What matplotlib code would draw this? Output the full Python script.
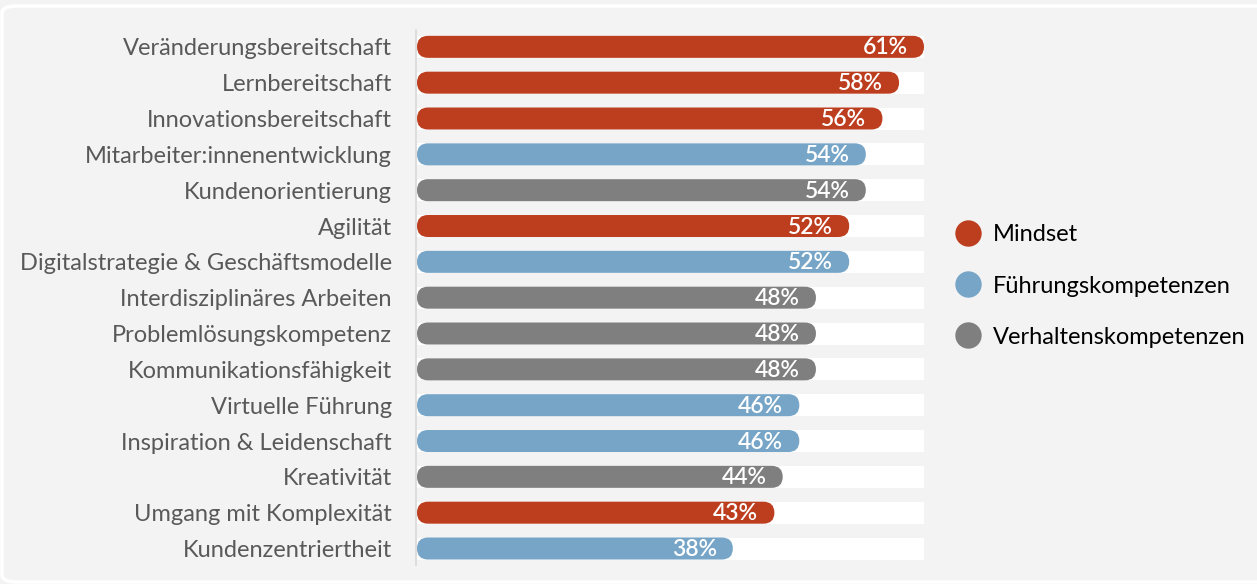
import matplotlib.pyplot as plt
from matplotlib.patches import FancyBboxPatch, Rectangle
from matplotlib.lines import Line2D

# data
labels = ["Veränderungsbereitschaft", "Lernbereitschaft", "Innovationsbereitschaft",
          "Mitarbeiter:innenentwicklung", "Kundenorientierung", "Agilität",
          "Digitalstrategie & Geschäftsmodelle", "Interdisziplinäres Arbeiten",
          "Problemlösungskompetenz", "Kommunikationsfähigkeit", "Virtuelle Führung",
          "Inspiration & Leidenschaft", "Kreativität", "Umgang mit Komplexität",
          "Kundenzentriertheit"]
values = [61, 58, 56, 54, 54, 52, 52, 48, 48, 48, 46, 46, 44, 43, 38]
groups = ["Mindset", "Mindset", "Mindset", "Führungskompetenzen", "Verhaltenskompetenzen",
          "Mindset", "Führungskompetenzen", "Verhaltenskompetenzen", "Verhaltenskompetenzen",
          "Verhaltenskompetenzen", "Führungskompetenzen", "Führungskompetenzen",
          "Verhaltenskompetenzen", "Mindset", "Führungskompetenzen"]
group_names = ["Mindset", "Führungskompetenzen", "Verhaltenskompetenzen"]
group_colors = {"Mindset": "#BD3E1F", "Führungskompetenzen": "#76A5C7",
                "Verhaltenskompetenzen": "#7F7F7F"}

plt.rcParams['font.family'] = ['Lato', 'DejaVu Sans']

W, H = 1257, 584
fig = plt.figure(figsize=(W / 100, H / 100), dpi=100)
fig.patch.set_facecolor("#F3F3F3")

# white rounded frame around the panel
frame = FancyBboxPatch((2 / W, 2 / H), (W + 20) / W, (H - 8) / H,
                       boxstyle="round,pad=0,rounding_size=0.012",
                       transform=fig.transFigure, facecolor="none",
                       edgecolor="white", linewidth=2.5)
fig.patches.append(frame)

# axes: x from 417 to 924 px, y from 30 to 565 px
ax_l, ax_r, ax_t, ax_b = 417, 924, 30, 565
ax = fig.add_axes([ax_l / W, 1 - ax_b / H, (ax_r - ax_l) / W, (ax_b - ax_t) / H])
ax.set_facecolor("none")
xmax = max(values)
ax.set_xlim(0, xmax)
ax.set_ylim(len(values) - 1 + 0.46, -0.47)

px_x = (ax_r - ax_l) / xmax
px_y = (ax_b - ax_t) / (len(values) - 1 + 0.93)
bar_h_px = 22
bh = bar_h_px / px_y
r_x = (bar_h_px / 2) / px_x
aspect = px_x / px_y

for i, (v, g) in enumerate(zip(values, groups)):
    ax.add_patch(Rectangle((0, i - bh / 2), xmax, bh, facecolor="white",
                           edgecolor="none", zorder=1))
    ax.add_patch(FancyBboxPatch((0, i - bh / 2), v, bh,
                                boxstyle=f"round,pad=0,rounding_size={r_x}",
                                mutation_aspect=aspect,
                                facecolor=group_colors[g], edgecolor="none", zorder=2))
    ax.text(v - 16 / px_x, i + 0.03, f"{v}%", ha="right", va="center",
            color="white", fontsize=16.5, fontweight="semibold", zorder=3)

ax.set_yticks(range(len(labels)))
ax.set_yticklabels(labels)
ax.tick_params(axis="y", length=0, pad=17, labelsize=17, labelcolor="#595959")
ax.set_xticks([])
for s in ["top", "right", "bottom"]:
    ax.spines[s].set_visible(False)
ax.spines["left"].set_color("#D9D9D9")
ax.spines["left"].set_linewidth(1.2)
ax.spines["left"].set_position(("outward", 1))

# legend
handles = [Line2D([0], [0], marker="o", linestyle="none", markersize=19,
                  markerfacecolor=group_colors[n], markeredgecolor="none")
           for n in group_names]
fig.legend(handles, group_names, loc="center left",
           bbox_to_anchor=(933 / W, 1 - 286 / H), frameon=False,
           fontsize=17, labelspacing=1.28, handletextpad=0.45,
           handlelength=1.2, labelcolor="black")

fig.savefig("out.png", dpi=100, facecolor=fig.get_facecolor())
